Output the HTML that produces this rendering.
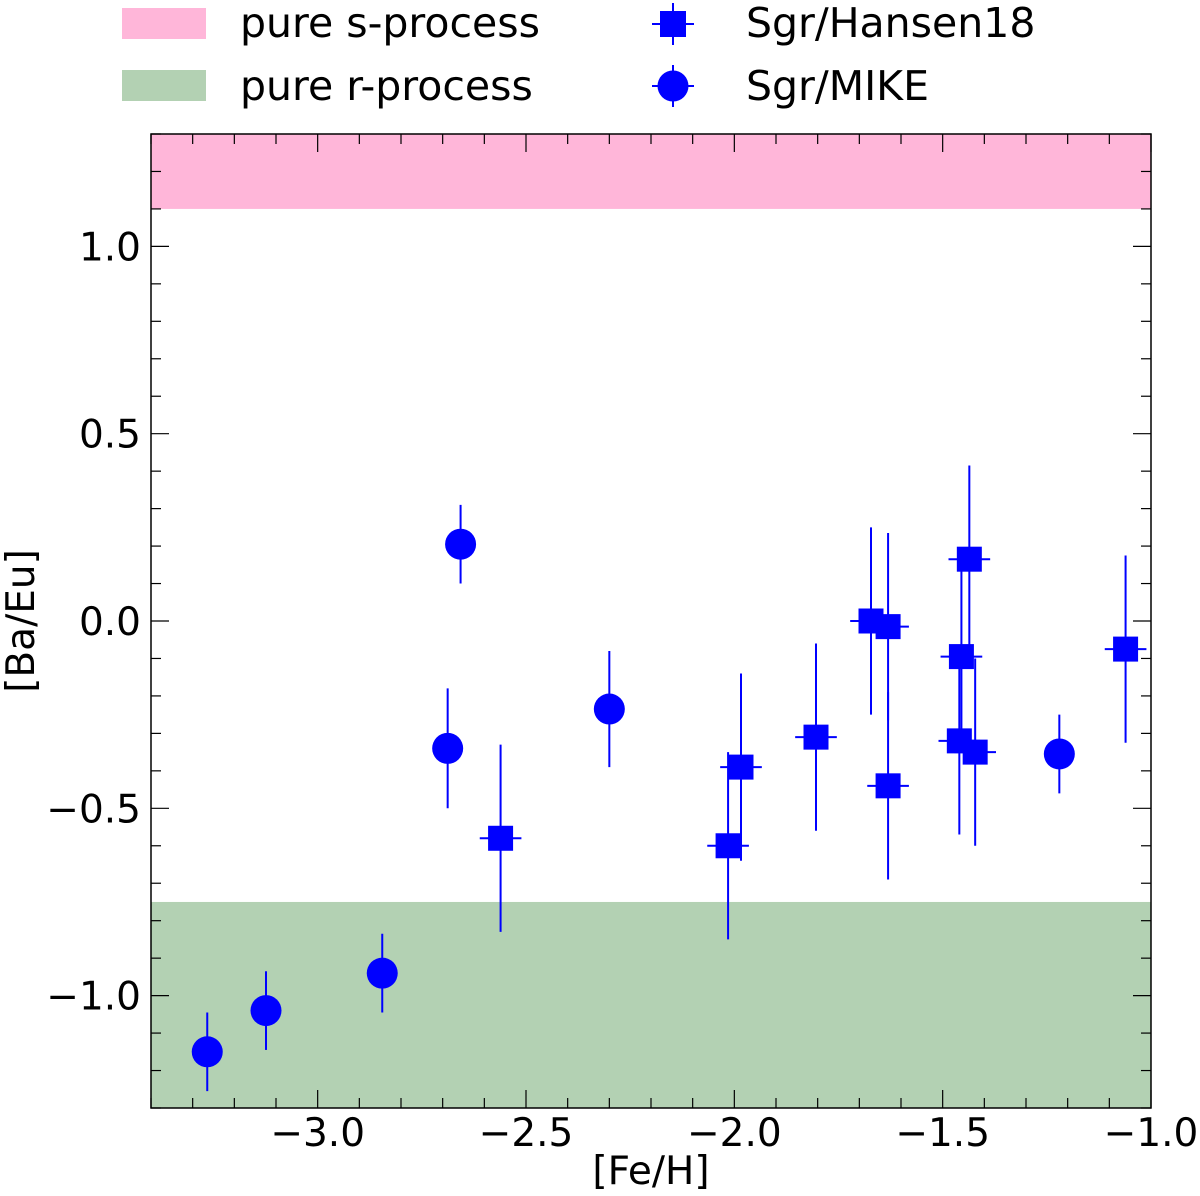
<!DOCTYPE html>
<html><head><meta charset="utf-8"><style>
html,body{margin:0;padding:0;background:#fff;}
svg{display:block;font-family:"DejaVu Sans","Liberation Sans",sans-serif;}
</style></head><body>
<svg id="chart" width="1200" height="1196" viewBox="0 0 1200 1196">
<g id="bands"></g><g id="ticks"></g><g id="marks"></g>
<rect x="151" y="134" width="1000" height="974" fill="none" stroke="#000" stroke-width="1.5"/>
<g id="labels"></g>
<text x="651" y="1184" font-size="39" text-anchor="middle">[Fe/H]</text>
<text transform="translate(34,621) rotate(-90)" font-size="39" text-anchor="middle">[Ba/Eu]</text>
<g>
<rect x="122" y="8" width="84" height="31" fill="#ffb6d9"/>
<text x="240" y="37" font-size="41">pure s-process</text>
<rect x="122" y="70" width="84" height="31" fill="#b3d1b3"/>
<text x="240" y="100" font-size="41">pure r-process</text>
<line x1="673" y1="3" x2="673" y2="45" stroke="#00f" stroke-width="2"/>
<line x1="652" y1="24" x2="694" y2="24" stroke="#00f" stroke-width="2"/>
<rect x="660" y="11" width="26" height="26" fill="#00f"/>
<text x="746" y="37" font-size="41">Sgr/Hansen18</text>
<line x1="673" y1="65" x2="673" y2="107" stroke="#00f" stroke-width="2"/>
<line x1="652" y1="86" x2="694" y2="86" stroke="#00f" stroke-width="2"/>
<circle cx="673" cy="86" r="15.5" fill="#00f"/>
<text x="746" y="100" font-size="41">Sgr/MIKE</text>
</g>
</svg>
<script>
const mikeFe=[-3.265,-3.124,-2.845,-2.688,-2.657,-2.30,-1.22];
const mikeBaEu=[-1.15,-1.04,-0.94,-0.34,0.205,-0.235,-0.355];
const mikeErr=[0.105,0.105,0.105,0.16,0.105,0.155,0.105];
const hanFe=[-2.561,-2.015,-1.984,-1.804,-1.672,-1.631,-1.631,-1.46,-1.455,-1.436,-1.422,-1.061];
const hanBaEu=[-0.58,-0.60,-0.39,-0.31,0.0,-0.015,-0.44,-0.32,-0.095,0.165,-0.35,-0.075];
const hanErr=[0.25,0.25,0.25,0.25,0.25,0.25,0.25,0.25,0.25,0.25,0.25,0.25];
const hanXErr=[0.05,0.05,0.05,0.05,0.05,0.05,0.05,0.05,0.05,0.05,0.05,0.05];
const xTicks=[-3.0,-2.5,-2.0,-1.5,-1.0];
const xTickLabels=["\u22123.0","\u22122.5","\u22122.0","\u22121.5","\u22121.0"];
const yTicks=[-1.0,-0.5,0.0,0.5,1.0];
const yTickLabels=["\u22121.0","\u22120.5","0.0","0.5","1.0"];
const sBand=[1.1,1.3];
const rBand=[-1.3,-0.75];
const X0=151,X1=1151,Y0=134,Y1=1108,xmin=-3.4,xmax=-1.0,ymin=-1.3,ymax=1.3;
const sx=v=>X0+(v-xmin)/(xmax-xmin)*(X1-X0);
const sy=v=>Y1-(v-ymin)/(ymax-ymin)*(Y1-Y0);
const NS="http://www.w3.org/2000/svg";
function mk(t,a,p){const e=document.createElementNS(NS,t);for(const k in a)e.setAttribute(k,a[k]);p.appendChild(e);return e;}
const bands=document.getElementById('bands'),ticks=document.getElementById('ticks'),marks=document.getElementById('marks'),labels=document.getElementById('labels');
let b=mk('rect',{x:X0,y:sy(sBand[1]),width:X1-X0,height:sy(sBand[0])-sy(sBand[1]),fill:'#ffb6d9'},bands);


b=mk('rect',{x:X0,y:sy(rBand[1]),width:X1-X0,height:sy(rBand[0])-sy(rBand[1]),fill:'#b3d1b3'},bands);


for(let i=-34;i<=-10;i++){const v=i/10,x=sx(v),maj=(i%5===0),L=maj?18:10;
mk('line',{x1:x,y1:Y1,x2:x,y2:Y1-L,stroke:'#000','stroke-width':1.2},ticks);
mk('line',{x1:x,y1:Y0,x2:x,y2:Y0+L,stroke:'#000','stroke-width':1.2},ticks);}
for(let i=-13;i<=13;i++){const v=i/10,y=sy(v),maj=(i%5===0),L=maj?18:10;
mk('line',{x1:X0,y1:y,x2:X0+L,y2:y,stroke:'#000','stroke-width':1.2},ticks);
mk('line',{x1:X1,y1:y,x2:X1-L,y2:y,stroke:'#000','stroke-width':1.2},ticks);}
xTicks.forEach((v,i)=>{const t=mk('text',{x:sx(v),y:1146,'font-size':39,'text-anchor':'middle'},labels);t.textContent=xTickLabels[i];

});
yTicks.forEach((v,i)=>{const t=mk('text',{x:141,y:sy(v)+14,'font-size':39,'text-anchor':'end'},labels);t.textContent=yTickLabels[i];

});
hanFe.forEach((v,i)=>{const g=mk('g',{},marks);


const x=sx(v),y=sy(hanBaEu[i]);
mk('line',{x1:x,y1:sy(hanBaEu[i]+hanErr[i]),x2:x,y2:sy(hanBaEu[i]-hanErr[i]),stroke:'#00f','stroke-width':2},g);
mk('line',{x1:sx(v-hanXErr[i]),y1:y,x2:sx(v+hanXErr[i]),y2:y,stroke:'#00f','stroke-width':2},g);
mk('rect',{x:x-12.5,y:y-12.5,width:25,height:25,fill:'#00f'},g);});
mikeFe.forEach((v,i)=>{const g=mk('g',{},marks);


const x=sx(v),y=sy(mikeBaEu[i]);
mk('line',{x1:x,y1:sy(mikeBaEu[i]+mikeErr[i]),x2:x,y2:sy(mikeBaEu[i]-mikeErr[i]),stroke:'#00f','stroke-width':2},g);
mk('circle',{cx:x,cy:y,r:15.5,fill:'#00f'},g);});
</script>
</body></html>
